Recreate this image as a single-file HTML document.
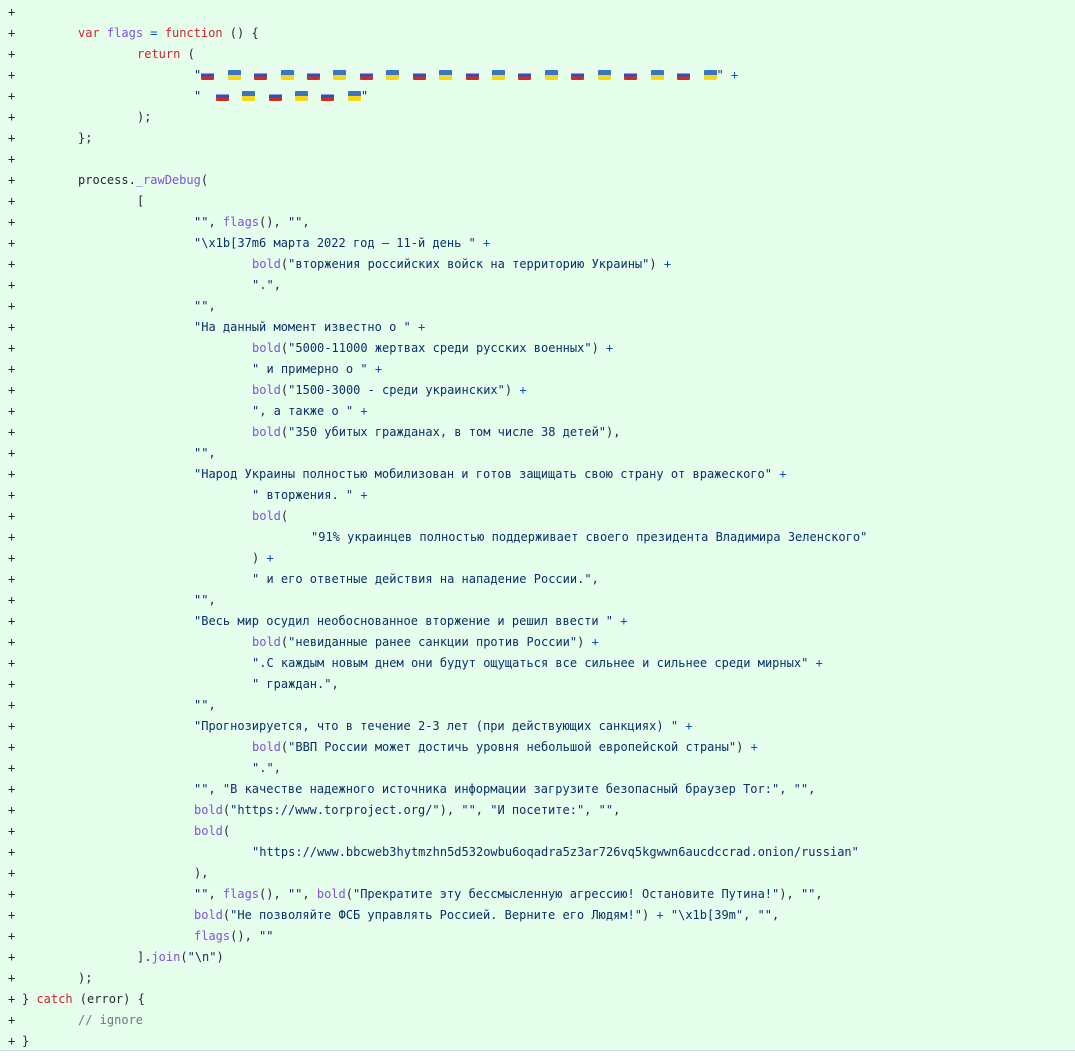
<!DOCTYPE html>
<html><head><meta charset="utf-8"><style>
html,body{margin:0;padding:0;background:#fff;}
#wrap{position:relative;width:1075px;height:1050px;background:#e6ffec;border-bottom:1px solid #d0d7de;overflow:hidden;}
.l{position:absolute;left:0;height:21px;line-height:21px;white-space:pre;font-family:"DejaVu Sans Mono","Liberation Mono",monospace;font-size:12px;color:#24292f;}
.p{position:absolute;left:8px;top:0;}
.c{position:absolute;top:0;}
k{color:#cf222e}f{color:#8250df}o{color:#0550ae}s{color:#0a3069;text-decoration:none}m{color:#6e7781}
.fl{display:inline-block;width:26.45px;height:21px;vertical-align:top;position:relative;}
.fl i{position:absolute;left:0;top:5px;width:13px;height:10px;border-radius:1px;}
.ru i{background:linear-gradient(#f4f4f4 0 33%,#2a52be 33% 66%,#d52b1e 66%);}
.ua i{background:linear-gradient(#3a75c4 0 50%,#f9d616 50%);}
</style></head><body><div id="wrap">
<div class="l" style="top:1.5px"><span class="p">+</span></div>
<div class="l" style="top:22.5px"><span class="p">+</span><span class="c" style="left:78px"><k>var</k> <f>flags</f> <o>=</o> <k>function</k> () {</span></div>
<div class="l" style="top:43.5px"><span class="p">+</span><span class="c" style="left:137px"><k>return</k> (</span></div>
<div class="l" style="top:64.5px"><span class="p">+</span><span class="c" style="left:194px"><s>"<span class="fl ru"><i></i></span><span class="fl ua"><i></i></span><span class="fl ru"><i></i></span><span class="fl ua"><i></i></span><span class="fl ru"><i></i></span><span class="fl ua"><i></i></span><span class="fl ru"><i></i></span><span class="fl ua"><i></i></span><span class="fl ru"><i></i></span><span class="fl ua"><i></i></span><span class="fl ru"><i></i></span><span class="fl ua"><i></i></span><span class="fl ru"><i></i></span><span class="fl ua"><i></i></span><span class="fl ru"><i></i></span><span class="fl ua"><i></i></span><span class="fl ru"><i></i></span><span class="fl ua"><i></i></span><span class="fl ru"><i></i></span><span class="fl ua" style="width:13px"><i></i></span>"</s> <o>+</o></span></div>
<div class="l" style="top:85.5px"><span class="p">+</span><span class="c" style="left:194px"><s>"  <span class="fl ru"><i></i></span><span class="fl ua"><i></i></span><span class="fl ru"><i></i></span><span class="fl ua"><i></i></span><span class="fl ru"><i></i></span><span class="fl ua" style="width:13px"><i></i></span>"</s></span></div>
<div class="l" style="top:106.5px"><span class="p">+</span><span class="c" style="left:137px">);</span></div>
<div class="l" style="top:127.5px"><span class="p">+</span><span class="c" style="left:78px">};</span></div>
<div class="l" style="top:148.5px"><span class="p">+</span></div>
<div class="l" style="top:169.5px"><span class="p">+</span><span class="c" style="left:78px">process.<f>_rawDebug</f>(</span></div>
<div class="l" style="top:190.5px"><span class="p">+</span><span class="c" style="left:137px">[</span></div>
<div class="l" style="top:211.5px"><span class="p">+</span><span class="c" style="left:194px"><s>""</s>, <f>flags</f>(), <s>""</s>,</span></div>
<div class="l" style="top:232.5px"><span class="p">+</span><span class="c" style="left:194px"><s>"\x1b[37m6 марта 2022 год — 11-й день "</s> <o>+</o></span></div>
<div class="l" style="top:253.5px"><span class="p">+</span><span class="c" style="left:252px"><f>bold</f>(<s>"вторжения российских войск на территорию Украины"</s>) <o>+</o></span></div>
<div class="l" style="top:274.5px"><span class="p">+</span><span class="c" style="left:252px"><s>"."</s>,</span></div>
<div class="l" style="top:295.5px"><span class="p">+</span><span class="c" style="left:194px"><s>""</s>,</span></div>
<div class="l" style="top:316.5px"><span class="p">+</span><span class="c" style="left:194px"><s>"На данный момент известно о "</s> <o>+</o></span></div>
<div class="l" style="top:337.5px"><span class="p">+</span><span class="c" style="left:252px"><f>bold</f>(<s>"5000-11000 жертвах среди русских военных"</s>) <o>+</o></span></div>
<div class="l" style="top:358.5px"><span class="p">+</span><span class="c" style="left:252px"><s>" и примерно о "</s> <o>+</o></span></div>
<div class="l" style="top:379.5px"><span class="p">+</span><span class="c" style="left:252px"><f>bold</f>(<s>"1500-3000 - среди украинских"</s>) <o>+</o></span></div>
<div class="l" style="top:400.5px"><span class="p">+</span><span class="c" style="left:252px"><s>", а также о "</s> <o>+</o></span></div>
<div class="l" style="top:421.5px"><span class="p">+</span><span class="c" style="left:252px"><f>bold</f>(<s>"350 убитых гражданах, в том числе 38 детей"</s>),</span></div>
<div class="l" style="top:442.5px"><span class="p">+</span><span class="c" style="left:194px"><s>""</s>,</span></div>
<div class="l" style="top:463.5px"><span class="p">+</span><span class="c" style="left:194px"><s>"Народ Украины полностью мобилизован и готов защищать свою страну от вражеского"</s> <o>+</o></span></div>
<div class="l" style="top:484.5px"><span class="p">+</span><span class="c" style="left:252px"><s>" вторжения. "</s> <o>+</o></span></div>
<div class="l" style="top:505.5px"><span class="p">+</span><span class="c" style="left:252px"><f>bold</f>(</span></div>
<div class="l" style="top:526.5px"><span class="p">+</span><span class="c" style="left:311px"><s>"91% украинцев полностью поддерживает своего президента Владимира Зеленского"</s></span></div>
<div class="l" style="top:547.5px"><span class="p">+</span><span class="c" style="left:252px">) <o>+</o></span></div>
<div class="l" style="top:568.5px"><span class="p">+</span><span class="c" style="left:252px"><s>" и его ответные действия на нападение России."</s>,</span></div>
<div class="l" style="top:589.5px"><span class="p">+</span><span class="c" style="left:194px"><s>""</s>,</span></div>
<div class="l" style="top:610.5px"><span class="p">+</span><span class="c" style="left:194px"><s>"Весь мир осудил необоснованное вторжение и решил ввести "</s> <o>+</o></span></div>
<div class="l" style="top:631.5px"><span class="p">+</span><span class="c" style="left:252px"><f>bold</f>(<s>"невиданные ранее санкции против России"</s>) <o>+</o></span></div>
<div class="l" style="top:652.5px"><span class="p">+</span><span class="c" style="left:252px"><s>".С каждым новым днем они будут ощущаться все сильнее и сильнее среди мирных"</s> <o>+</o></span></div>
<div class="l" style="top:673.5px"><span class="p">+</span><span class="c" style="left:252px"><s>" граждан."</s>,</span></div>
<div class="l" style="top:694.5px"><span class="p">+</span><span class="c" style="left:194px"><s>""</s>,</span></div>
<div class="l" style="top:715.5px"><span class="p">+</span><span class="c" style="left:194px"><s>"Прогнозируется, что в течение 2-3 лет (при действующих санкциях) "</s> <o>+</o></span></div>
<div class="l" style="top:736.5px"><span class="p">+</span><span class="c" style="left:252px"><f>bold</f>(<s>"ВВП России может достичь уровня небольшой европейской страны"</s>) <o>+</o></span></div>
<div class="l" style="top:757.5px"><span class="p">+</span><span class="c" style="left:252px"><s>"."</s>,</span></div>
<div class="l" style="top:778.5px"><span class="p">+</span><span class="c" style="left:194px"><s>""</s>, <s>"В качестве надежного источника информации загрузите безопасный браузер Tor:"</s>, <s>""</s>,</span></div>
<div class="l" style="top:799.5px"><span class="p">+</span><span class="c" style="left:194px"><f>bold</f>(<s>"https://www.torproject.org/"</s>), <s>""</s>, <s>"И посетите:"</s>, <s>""</s>,</span></div>
<div class="l" style="top:820.5px"><span class="p">+</span><span class="c" style="left:194px"><f>bold</f>(</span></div>
<div class="l" style="top:841.5px"><span class="p">+</span><span class="c" style="left:252px"><s>"https://www.bbcweb3hytmzhn5d532owbu6oqadra5z3ar726vq5kgwwn6aucdccrad.onion/russian"</s></span></div>
<div class="l" style="top:862.5px"><span class="p">+</span><span class="c" style="left:194px">),</span></div>
<div class="l" style="top:883.5px"><span class="p">+</span><span class="c" style="left:194px"><s>""</s>, <f>flags</f>(), <s>""</s>, <f>bold</f>(<s>"Прекратите эту бессмысленную агрессию! Остановите Путина!"</s>), <s>""</s>,</span></div>
<div class="l" style="top:904.5px"><span class="p">+</span><span class="c" style="left:194px"><f>bold</f>(<s>"Не позволяйте ФСБ управлять Россией. Верните его Людям!"</s>) <o>+</o> <s>"\x1b[39m"</s>, <s>""</s>,</span></div>
<div class="l" style="top:925.5px"><span class="p">+</span><span class="c" style="left:194px"><f>flags</f>(), <s>""</s></span></div>
<div class="l" style="top:946.5px"><span class="p">+</span><span class="c" style="left:137px">].<f>join</f>(<s>"\n"</s>)</span></div>
<div class="l" style="top:967.5px"><span class="p">+</span><span class="c" style="left:78px">);</span></div>
<div class="l" style="top:988.5px"><span class="p">+</span><span class="c" style="left:22px">} <k>catch</k> (error) {</span></div>
<div class="l" style="top:1009.5px"><span class="p">+</span><span class="c" style="left:78px"><m>// ignore</m></span></div>
<div class="l" style="top:1030.5px"><span class="p">+</span><span class="c" style="left:22px">}</span></div>
</div></body></html>
